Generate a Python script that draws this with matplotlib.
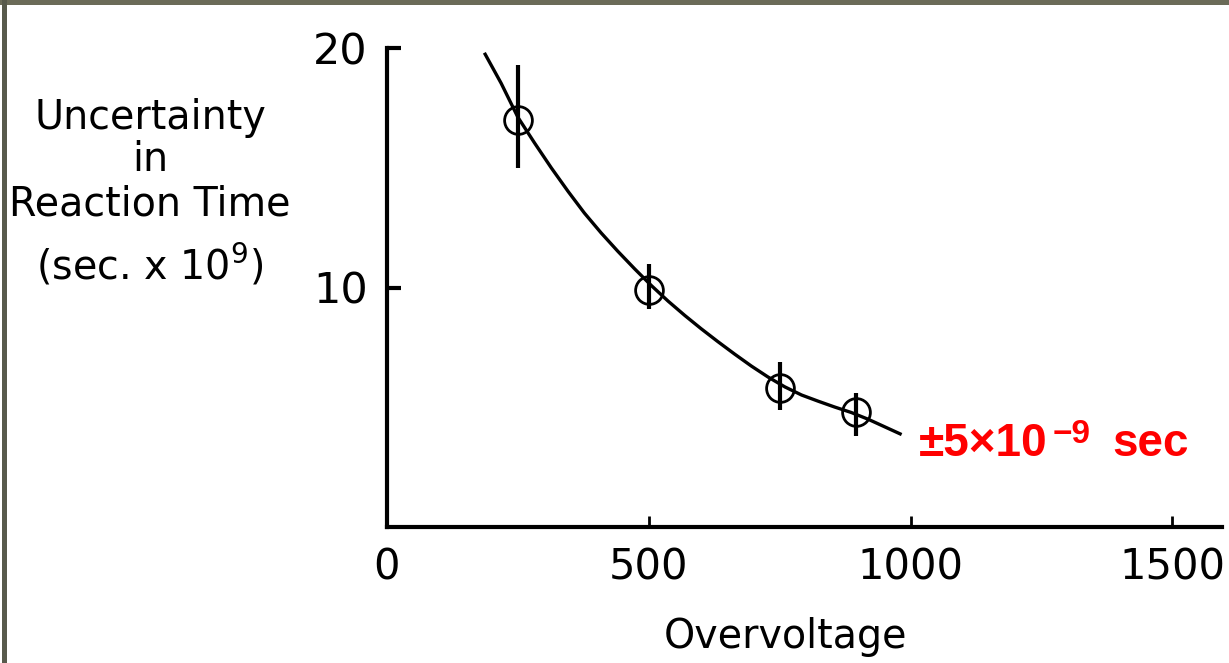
import matplotlib
matplotlib.use("Agg")
import matplotlib.pyplot as plt
from matplotlib.patches import Rectangle

# ---- data ----
overvoltage = [250, 500, 750, 895]
uncertainty = [17.0, 9.9, 5.8, 4.8]
err_low = [2.0, 0.8, 0.9, 1.0]
err_high = [2.3, 1.1, 1.1, 0.8]

curve_x = [186, 218, 250, 282, 314, 346, 377, 409, 441, 473, 505, 537, 569,
           600, 632, 664, 696, 728, 760, 792, 824, 855, 887, 919, 951, 983]
curve_y = [19.80, 18.53, 17.11, 16.03, 14.99, 14.01, 13.11, 12.28, 11.51,
           10.78, 10.08, 9.43, 8.83, 8.28, 7.74, 7.22, 6.72, 6.26, 5.85,
           5.51, 5.25, 5.01, 4.78, 4.50, 4.18, 3.86]

x_ticks = [0, 500, 1000, 1500]
x_tick_labels = ["0", "500", "1000", "1500"]
y_ticks = [10, 20]
y_tick_labels = ["10", "20"]

ylabel_lines = ["Uncertainty", "in", "Reaction Time", "(sec. x 10$^9$)"]
xlabel = "Overvoltage"
annot_main = "±5×10"
annot_exp = "\u22129"
annot_unit = "sec"

W, H = 1229, 663
fig = plt.figure(figsize=(W / 100, H / 100), dpi=100)
fig.patch.set_facecolor("white")

# axes placement (pixel based)
left, right, bottom, top = 387, 1222, 527, 48
ax = fig.add_axes([left / W, 1 - bottom / H, (right - left) / W, (bottom - top) / H])
ax.set_xlim(0, 1595)
ax.set_ylim(0, 20)
ax.set_facecolor("none")

for s in ["top", "right"]:
    ax.spines[s].set_visible(False)
for s in ["left", "bottom"]:
    ax.spines[s].set_linewidth(3.0)
    ax.spines[s].set_color("black")
    ax.spines[s].set_capstyle("projecting")

ax.plot(curve_x, curve_y, color="black", lw=2.4, solid_capstyle="butt",
        solid_joinstyle="round", clip_on=False)
yerr = [err_low, err_high]
ax.errorbar(overvoltage, uncertainty, yerr=yerr, fmt="none", ecolor="black",
            elinewidth=3.0, capsize=0, clip_on=False)
ax.plot(overvoltage, uncertainty, linestyle="none", marker="o", markersize=20,
        markerfacecolor="none", markeredgecolor="black", markeredgewidth=2.0,
        clip_on=False)

ax.set_xticks(x_ticks)
ax.set_xticklabels(x_tick_labels)
ax.set_yticks(y_ticks)
ax.set_yticklabels(y_tick_labels)
ax.tick_params(axis="x", direction="in", length=8, width=2.0, pad=14,
               labelsize=30)
ax.tick_params(axis="y", direction="in", length=10, width=3.0, pad=14,
               labelsize=31)

# y label lines (pixel centers from reference)
ylab_x = 150
ylab_ys = [118, 160, 205, 265]
for txt, yy in zip(ylabel_lines, ylab_ys):
    fig.text(ylab_x / W, 1 - yy / H, txt, ha="center", va="center",
             fontsize=28.5, color="black")

fig.text(785 / W, 1 - 637 / H, xlabel, ha="center", va="center",
         fontsize=28.5, color="black")

red_kw = dict(color="#ff0000", fontweight="bold",
              family=["Liberation Sans", "DejaVu Sans"], ha="left", va="baseline")
fig.text(919 / W, 1 - 456 / H, annot_main, fontsize=33, **red_kw)
fig.text(1053 / W, 1 - 443 / H, annot_exp, fontsize=24, **red_kw)
fig.text(1112 / W, 1 - 456 / H, annot_unit, fontsize=33, **red_kw)

# scan frame remnants
fig.patches.append(Rectangle((0, 1 - 5 / H), 1, 5 / H, transform=fig.transFigure,
                             facecolor="#6b6b58", edgecolor="none", zorder=10))
fig.patches.append(Rectangle((2 / W, 0), 5 / W, 1, transform=fig.transFigure,
                             facecolor="#585a4c", edgecolor="none", zorder=10))

fig.savefig("out.png", dpi=100)
